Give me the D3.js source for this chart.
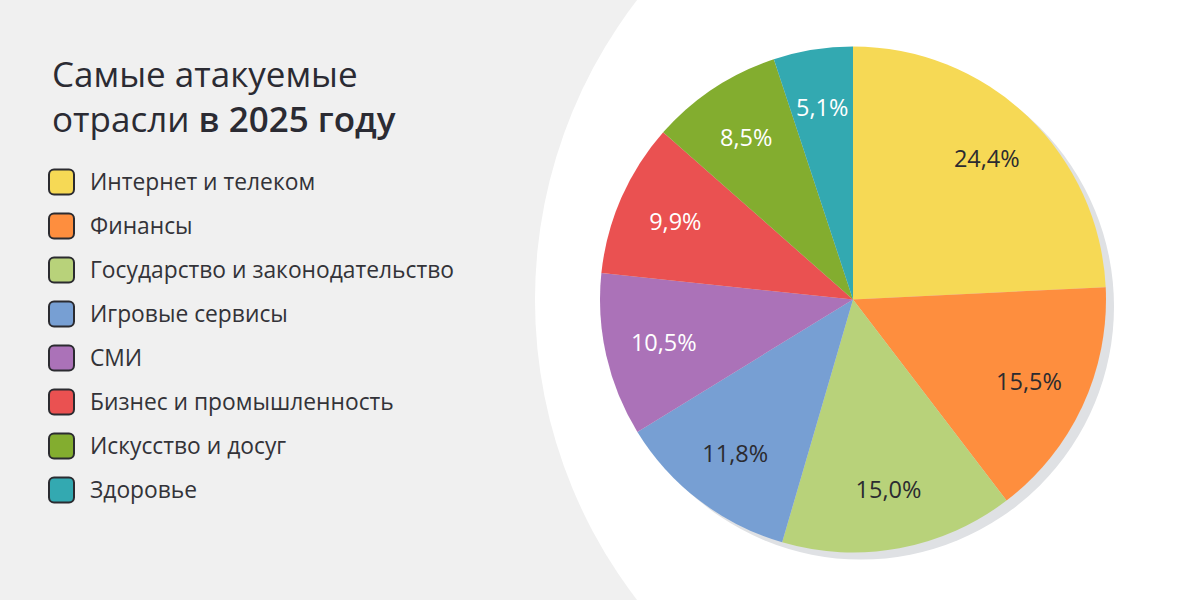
<!DOCTYPE html>
<html>
<head>
<meta charset="utf-8">
<script src="https://cdn.jsdelivr.net/npm/d3@7"></script>
<style>
  body { margin: 0; background: #f0f0f0; }
  svg { display: block; font-family: "Open Sans", sans-serif; }
</style>
</head>
<body>
<div id="chart"></div>
<script>
const width = 1200;
const height = 600;

const categories = [
  "Интернет и телеком",
  "Финансы",
  "Государство и законодательство",
  "Игровые сервисы",
  "СМИ",
  "Бизнес и промышленность",
  "Искусство и досуг",
  "Здоровье"
];
const values = [24.4, 15.5, 15.0, 11.8, 10.5, 9.9, 8.5, 5.1];
const colors = ["#f6d955", "#fe8e3e", "#b8d27a", "#779fd3", "#ab72b8", "#ea5151", "#83ad2f", "#33a9b1"];
const labelColors = ["#2b2b30", "#2b2b30", "#2b2b30", "#2b2b30", "#fff", "#fff", "#fff", "#fff"];

const data = categories.map((c, i) => ({ name: c, value: values[i], color: colors[i], label: labelColors[i] }));

const svg = d3.select("#chart")
  .append("svg")
  .attr("width", width)
  .attr("height", height);

svg.append("rect")
  .attr("width", width)
  .attr("height", height)
  .attr("fill", "#f0f0f0");

// big white circle behind the pie
svg.append("circle")
  .attr("cx", 1027)
  .attr("cy", 300)
  .attr("r", 492)
  .attr("fill", "#fff");

// title
const title = svg.append("text")
  .attr("x", 52)
  .attr("y", 87)
  .attr("font-size", 35)
  .attr("fill", "#2b2b33");
title.append("tspan").text("Самые атакуемые");
title.append("tspan").attr("x", 52).attr("dy", 45).text("отрасли ");
title.append("tspan").attr("font-weight", 600).text("в 2025 году");

// legend
const legend = svg.append("g")
  .selectAll("g")
  .data(data)
  .enter()
  .append("g")
  .attr("transform", (d, i) => `translate(48,${182 + i * 44})`);

legend.append("rect")
  .attr("x", 1)
  .attr("y", -12.5)
  .attr("width", 25)
  .attr("height", 25)
  .attr("rx", 5)
  .attr("fill", d => d.color)
  .attr("stroke", "#2b2b30")
  .attr("stroke-width", 2);

legend.append("text")
  .attr("x", 42)
  .attr("dy", "0.35em")
  .attr("font-size", 22.8)
  .attr("fill", "#333338")
  .text(d => d.name);

// pie
const cx = 853;
const cy = 299.5;
const radius = 253;

const pie = d3.pie().sort(null).value(d => d.value);
const arc = d3.arc().innerRadius(0).outerRadius(radius);
const labelArc = d3.arc().innerRadius(194).outerRadius(194);

const arcs = pie(data);

const g = svg.append("g").attr("transform", `translate(${cx},${cy})`);

g.append("circle")
  .attr("cx", 8)
  .attr("cy", 7)
  .attr("r", radius)
  .attr("fill", "#dfe1e4");

g.selectAll("path")
  .data(arcs)
  .enter()
  .append("path")
  .attr("d", arc)
  .attr("fill", d => d.data.color);

g.selectAll("text.pct")
  .data(arcs)
  .enter()
  .append("text")
  .attr("class", "pct")
  .attr("transform", d => `translate(${labelArc.centroid(d)})`)
  .attr("text-anchor", "middle")
  .attr("dy", "0.35em")
  .attr("font-size", 23.5)
  .attr("fill", d => d.data.label)
  .text(d => d3.format(".1f")(d.data.value).replace(".", ",") + "%");
</script>
</body>
</html>
